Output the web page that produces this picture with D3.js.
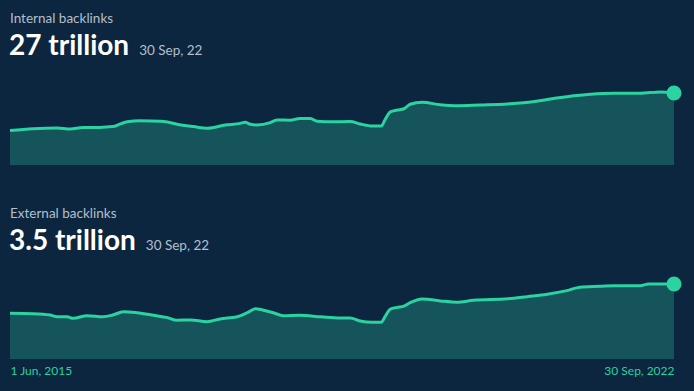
<!DOCTYPE html>
<html>
<head>
<meta charset="utf-8">
<script src="https://cdn.jsdelivr.net/npm/d3@7"></script>
<style>
  html, body { margin: 0; padding: 0; background: #0c2640; }
  svg { display: block; font-family: Lato, "Noto Sans", sans-serif; }
</style>
</head>
<body>
<div id="chart"></div>
<script>
// Data
const internalDates = ['2015-06-01','2015-09-02','2015-12-08','2016-01-30','2016-03-21','2016-05-28','2016-07-19','2016-08-19','2016-09-16','2016-11-07','2017-01-28','2017-02-25','2017-04-04','2017-06-10','2017-08-07','2017-10-16','2017-12-16','2018-01-04','2018-01-25','2018-02-21','2018-04-16','2018-05-13','2018-07-04','2018-08-13','2018-09-25','2018-10-22','2018-12-25','2019-03-04','2019-04-13','2019-06-01','2019-07-07','2019-07-22','2019-08-13','2019-09-10','2019-10-07','2019-11-01','2019-12-19','2020-03-01','2020-05-07','2020-08-10','2020-11-28','2021-03-10','2021-05-07','2021-07-25','2021-10-28','2022-02-01','2022-05-16','2022-08-07','2022-09-30'];
const internalValues = [12.9,13.6,13.9,13.5,14.1,14.1,14.4,15.4,16.2,16.6,16.4,16.1,15.3,14.4,13.8,15.0,15.6,16.0,15.3,15.0,15.9,16.9,16.8,17.4,17.4,16.4,16.2,16.3,15.4,14.6,14.6,16.9,19.9,20.6,21.1,22.8,23.5,22.6,22.2,22.5,22.9,23.7,24.6,25.6,26.5,26.9,26.9,27.4,27.0];

const externalDates = ['2015-06-01','2015-09-02','2015-11-10','2015-12-08','2016-01-17','2016-02-11','2016-04-07','2016-06-10','2016-07-19','2016-09-01','2016-10-25','2016-12-31','2017-02-25','2017-04-04','2017-05-28','2017-08-04','2017-09-25','2017-12-04','2018-01-13','2018-02-15','2018-03-16','2018-04-28','2018-06-07','2018-08-13','2018-11-04','2019-01-22','2019-03-04','2019-04-13','2019-06-01','2019-07-07','2019-07-22','2019-08-13','2019-09-10','2019-10-07','2019-11-01','2019-12-19','2020-03-01','2020-05-07','2020-07-13','2020-11-28','2021-02-15','2021-05-07','2021-07-25','2021-09-15','2021-12-07','2022-02-01','2022-05-16','2022-06-19','2022-09-30'];
const externalValues = [2.13,2.11,2.05,1.97,1.97,1.90,2.02,1.97,2.05,2.21,2.16,2.04,1.93,1.81,1.82,1.74,1.87,1.97,2.16,2.35,2.29,2.16,2.02,2.04,1.97,1.91,1.91,1.77,1.71,1.71,1.97,2.33,2.41,2.47,2.63,2.80,2.71,2.65,2.74,2.81,2.91,3.02,3.19,3.35,3.39,3.42,3.42,3.50,3.50];

const titles = ['Internal backlinks', 'External backlinks'];
const totals = ['27 trillion', '3.5 trillion'];
const totalDates = ['30 Sep, 22', '30 Sep, 22'];
const axisDates = ['2015-06-01', '2022-09-30'];

const width = 694;
const height = 391;
const parse = d3.timeParse('%Y-%m-%d');

const svg = d3.select('#chart')
  .append('svg')
  .attr('width', width)
  .attr('height', height);

svg.append('rect')
  .attr('width', width)
  .attr('height', height)
  .attr('fill', '#0c2640');

const x = d3.scaleTime()
  .domain(axisDates.map(parse))
  .range([10, 674]);

const panels = [
  { dates: internalDates, values: internalValues, max: 27, top: 0, base: 165, peak: 93 },
  { dates: externalDates, values: externalValues, max: 3.5, top: 195, base: 359, peak: 284 }
];

panels.forEach((p, i) => {
  const pts = p.dates.map((d, j) => ({ date: parse(d), value: p.values[j] }));
  const y = d3.scaleLinear().domain([0, p.max]).range([p.base, p.peak]);

  const area = d3.area()
    .x(d => x(d.date))
    .y0(p.base)
    .y1(d => y(d.value))
    .curve(d3.curveMonotoneX);

  const line = d3.line()
    .x(d => x(d.date))
    .y(d => y(d.value))
    .curve(d3.curveMonotoneX);

  svg.append('path')
    .datum(pts)
    .attr('d', area)
    .attr('fill', '#15545a');

  svg.append('path')
    .datum(pts)
    .attr('d', line)
    .attr('fill', 'none')
    .attr('stroke', '#2ad3a0')
    .attr('stroke-width', 3)
    .attr('stroke-linejoin', 'round');

  const last = pts[pts.length - 1];
  svg.append('circle')
    .attr('cx', x(last.date))
    .attr('cy', y(last.value))
    .attr('r', 7.5)
    .attr('fill', '#2ad3a0');

  // header texts
  svg.append('text')
    .attr('x', 10)
    .attr('y', p.top + 22.5)
    .attr('fill', '#b4bfca')
    .attr('font-size', 13.5)
    .text(titles[i]);

  const big = svg.append('text')
    .attr('x', 9)
    .attr('y', p.top + 54.5)
    .attr('fill', '#ffffff')
    .attr('font-size', 28)
    .attr('font-weight', 700)
    .text(totals[i]);

  const bw = big.node().getComputedTextLength();
  svg.append('text')
    .attr('x', 9 + bw + 10)
    .attr('y', p.top + 54.5)
    .attr('fill', '#b4bfca')
    .attr('font-size', 13.5)
    .text(totalDates[i]);
});

// bottom date axis
const axis = svg.append('g')
  .attr('transform', 'translate(0,359)')
  .call(d3.axisBottom(x)
    .tickValues(axisDates.map(parse))
    .tickFormat(d3.timeFormat('%-d %b, %Y'))
    .tickSize(0)
    .tickPadding(7));

axis.select('.domain').remove();
axis.selectAll('text')
  .attr('fill', '#2ad3a0')
  .attr('font-size', 12)
  .attr('font-family', 'Lato, "Noto Sans", sans-serif')
  .attr('text-anchor', (d, i) => i === 0 ? 'start' : 'end');
</script>
</body>
</html>
